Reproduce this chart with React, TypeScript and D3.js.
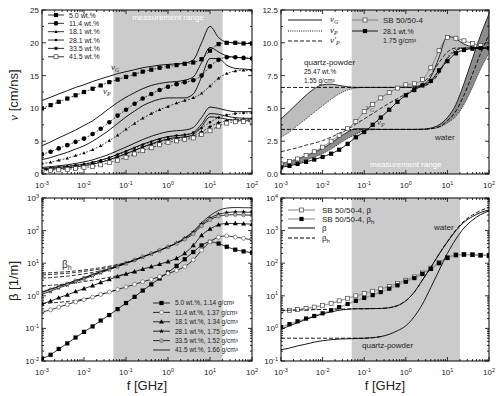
import * as d3 from 'd3';

// frequency grid of the curves, GHz (0.2 decade steps)
const freqGHz = [0.001, 0.0016, 0.0025, 0.004, 0.0063, 0.01, 0.016, 0.025, 0.04, 0.063, 0.1, 0.16, 0.25, 0.4, 0.63, 1, 1.6, 2.5, 4, 6.3, 10, 16, 25, 40, 63, 100];
const measRange = [0.05, 20];

const sampleWt = ['5.0 wt.%', '11.4 wt.%', '18.1 wt.%', '28.1 wt.%', '33.5 wt.%', '41.5 wt.%'];
const sampleDensity = ['1.14 g/cm³', '1.37 g/cm³', '1.34 g/cm³', '1.75 g/cm³', '1.52 g/cm³', '1.66 g/cm³'];

// top left: velocities [cm/ns], vG solid, vP with symbols
const vG05 = [11.2, 11.7, 12.2, 12.7, 13.2, 13.6, 14.1, 14.5, 14.9, 15.3, 15.6, 15.9, 16.2, 16.4, 16.6, 16.7, 16.8, 16.9, 17.4, 20.0, 22.5, 20.8, 20.1, 20.0, 19.9, 19.9];
const vP05 = [10.0, 10.5, 11.0, 11.5, 12.0, 12.5, 13.0, 13.5, 14.0, 14.4, 14.8, 15.2, 15.6, 15.9, 16.2, 16.4, 16.6, 16.8, 17.0, 17.5, 18.8, 19.8, 20.0, 20.0, 19.9, 19.9];
const vG11 = [4.3, 4.9, 5.5, 6.1, 6.7, 7.4, 8.1, 9.0, 10.0, 10.9, 11.7, 12.4, 13.0, 13.5, 13.8, 14.0, 14.1, 14.3, 14.8, 17.0, 19.3, 18.6, 18.0, 17.8, 17.7, 17.6];
const vP11 = [3.0, 3.4, 3.9, 4.4, 4.9, 5.4, 6.1, 6.9, 7.9, 8.9, 9.8, 10.7, 11.5, 12.2, 12.8, 13.3, 13.7, 14.0, 14.3, 15.0, 16.4, 17.4, 17.8, 17.8, 17.7, 17.6];
const vG18 = [2.2, 2.5, 2.9, 3.3, 3.8, 4.3, 5.0, 5.8, 6.7, 7.7, 8.7, 9.6, 10.4, 11.0, 11.4, 11.6, 11.6, 11.6, 12.2, 14.8, 17.6, 17.6, 16.6, 16.1, 16.0, 15.9];
const vP18 = [1.6, 1.8, 2.1, 2.4, 2.8, 3.2, 3.7, 4.3, 5.1, 5.9, 6.8, 7.7, 8.5, 9.2, 9.8, 10.3, 10.8, 11.2, 11.6, 12.3, 13.4, 14.6, 15.3, 15.7, 15.8, 15.8];
const vG28 = [1.0, 1.1, 1.25, 1.4, 1.6, 1.85, 2.15, 2.55, 3.0, 3.55, 4.1, 4.7, 5.25, 5.75, 6.15, 6.45, 6.6, 6.7, 7.1, 8.6, 10.2, 10.0, 9.7, 9.5, 9.5, 9.5];
const vP28 = [0.85, 0.95, 1.05, 1.2, 1.35, 1.55, 1.8, 2.1, 2.5, 2.95, 3.45, 3.95, 4.45, 4.9, 5.3, 5.6, 5.85, 6.0, 6.3, 7.0, 7.9, 8.6, 9.0, 9.2, 9.3, 9.3];
const vG33 = [0.8, 0.9, 1.0, 1.15, 1.3, 1.5, 1.75, 2.1, 2.5, 3.0, 3.5, 4.05, 4.55, 5.0, 5.4, 5.7, 5.85, 5.95, 6.3, 7.6, 9.2, 9.1, 8.8, 8.6, 8.5, 8.5];
const vP33 = [0.7, 0.78, 0.88, 1.0, 1.15, 1.33, 1.55, 1.85, 2.2, 2.65, 3.1, 3.6, 4.1, 4.5, 4.9, 5.2, 5.4, 5.55, 5.8, 6.4, 7.2, 7.8, 8.1, 8.3, 8.3, 8.3];
const vG41 = [0.65, 0.72, 0.82, 0.94, 1.08, 1.25, 1.48, 1.78, 2.15, 2.6, 3.1, 3.6, 4.1, 4.6, 5.0, 5.35, 5.55, 5.65, 6.0, 7.2, 8.7, 8.6, 8.35, 8.2, 8.2, 8.2];
const vP41 = [0.5, 0.56, 0.63, 0.72, 0.83, 0.97, 1.15, 1.4, 1.72, 2.1, 2.55, 3.05, 3.55, 4.0, 4.45, 4.8, 5.05, 5.25, 5.5, 6.0, 6.6, 7.3, 7.75, 7.95, 8.0, 8.0];

// top right: quartz-powder, water and SB 50/50-4 [cm/ns]
const quartzVG = [4.2, 4.8, 5.4, 6.0, 6.5, 6.8, 6.85, 6.75, 6.65, 6.6, 6.6, 6.6, 6.6, 6.6, 6.6, 6.6, 6.65, 6.8, 7.4, 8.9, 10.5, 10.3, 9.9, 9.7, 9.6, 9.6];
const quartzVP = [2.8, 3.2, 3.7, 4.2, 4.7, 5.2, 5.7, 6.1, 6.4, 6.55, 6.6, 6.6, 6.6, 6.6, 6.6, 6.6, 6.6, 6.7, 7.0, 7.8, 8.9, 9.5, 9.6, 9.6, 9.6, 9.6];
const quartzVPp = [6.6, 6.6, 6.6, 6.6, 6.6, 6.6, 6.6, 6.6, 6.6, 6.6, 6.6, 6.6, 6.6, 6.6, 6.6, 6.6, 6.6, 6.7, 6.95, 7.7, 8.8, 9.4, 9.6, 9.6, 9.6, 9.6];
const waterVG = [0.8, 0.95, 1.15, 1.4, 1.65, 1.95, 2.35, 2.8, 3.2, 3.45, 3.45, 3.42, 3.4, 3.4, 3.4, 3.4, 3.4, 3.42, 3.5, 3.75, 4.3, 5.3, 6.9, 8.8, 10.6, 12.2];
const waterVP = [0.55, 0.7, 0.85, 1.05, 1.3, 1.55, 1.9, 2.3, 2.7, 3.05, 3.3, 3.38, 3.4, 3.4, 3.4, 3.4, 3.4, 3.4, 3.45, 3.55, 3.9, 4.4, 5.3, 6.6, 8.0, 9.2];
const waterVPp = [3.4, 3.4, 3.4, 3.4, 3.4, 3.4, 3.4, 3.4, 3.4, 3.4, 3.4, 3.4, 3.4, 3.4, 3.4, 3.4, 3.4, 3.4, 3.45, 3.6, 4.05, 4.8, 6.0, 7.6, 9.2, 10.6];
const sbVG = [0.77, 0.95, 1.15, 1.4, 1.7, 2.05, 2.5, 2.95, 3.45, 4.0, 4.75, 5.3, 5.8, 6.2, 6.55, 6.8, 6.88, 7.2, 8.1, 9.4, 10.4, 10.35, 10.15, 9.95, 9.8, 9.7];
const sbVP = [0.5, 0.62, 0.77, 0.93, 1.1, 1.3, 1.55, 1.85, 2.3, 2.8, 3.2, 3.75, 4.3, 4.9, 5.5, 6.0, 6.4, 6.75, 7.1, 7.9, 8.6, 9.2, 9.45, 9.55, 9.6, 9.6];
const sbVPp = [1.7, 1.85, 2.0, 2.2, 2.35, 2.55, 2.8, 3.1, 3.4, 3.8, 4.2, 4.6, 5.0, 5.4, 5.75, 6.1, 6.5, 6.9, 7.6, 8.5, 9.3, 9.6, 9.6, 9.6, 9.6, 9.6];

// bottom left: attenuation beta [1/m]
const beta05 = [0.012, 0.0155, 0.0234, 0.0347, 0.0525, 0.078, 0.115, 0.174, 0.257, 0.39, 0.6, 0.93, 1.45, 2.24, 3.4, 5.2, 8.3, 13.2, 22, 35, 45, 40, 32, 26, 23, 21];
const beta11 = [0.32, 0.37, 0.45, 0.54, 0.65, 0.76, 0.91, 1.1, 1.3, 1.55, 1.86, 2.24, 2.7, 3.2, 3.9, 4.8, 6.0, 7.9, 12.6, 25, 45, 63, 69, 63, 58, 52];
const beta18 = [0.56, 0.69, 0.87, 1.07, 1.35, 1.66, 2.04, 2.57, 3.16, 3.9, 4.7, 5.5, 6.6, 7.8, 9.3, 11.2, 14.1, 20, 35, 71, 112, 151, 166, 166, 162, 158];
const beta28 = [1.12, 1.38, 1.74, 2.14, 2.7, 3.3, 4.1, 5.1, 6.3, 7.9, 9.8, 12.3, 15.5, 19.5, 24.5, 31.6, 41.7, 57.5, 89, 158, 240, 316, 355, 372, 372, 363];
const beta33 = [1.26, 1.55, 1.9, 2.34, 2.9, 3.5, 4.4, 5.4, 6.6, 8.1, 10, 12.6, 15.8, 20, 25, 31.6, 40, 54, 79, 141, 214, 275, 302, 309, 302, 295];
const beta41 = [1.32, 1.62, 1.95, 2.4, 2.95, 3.6, 4.5, 5.5, 6.8, 8.3, 10.2, 12.6, 15.5, 19.5, 24.5, 31.6, 42, 60, 95, 174, 288, 417, 490, 510, 505, 500];
// beta_h, low-frequency part until it joins beta
const betaH11 = [0.58, 0.6, 0.63, 0.67, 0.72, 0.8, 0.92, 1.1, 1.3, 1.55];
const betaH18 = [2.0, 2.1, 2.2, 2.35, 2.5, 2.75, 3.0, 3.3, 3.7, 4.1, 4.7, 5.5];
const betaH28 = [3.5, 3.6, 3.8, 4.0, 4.3, 4.7, 5.2, 5.9, 6.8, 8.0, 9.8, 12.3];
const betaH33 = [4.4, 4.5, 4.7, 4.9, 5.2, 5.6, 6.1, 6.7, 7.5, 8.6, 10, 12.6, 15.8];
const betaH41 = [5.0, 5.1, 5.3, 5.5, 5.8, 6.2, 6.7, 7.3, 8.1, 9.1, 10.4, 12.7, 15.5];

// bottom right
const sbBeta = [3.5, 3.6, 3.8, 4.1, 4.5, 5.1, 5.9, 7.0, 8.4, 10, 11.8, 13.8, 16.2, 19.5, 24, 30, 38, 50, 70, 105, 150, 180, 185, 182, 176, 170];
const sbBetaH = [1.1, 1.35, 1.65, 2.0, 2.4, 2.9, 3.6, 4.5, 5.6, 7.0, 8.6, 10.5, 13, 16.5, 21, 27, 35, 47, 67, 100, 145, 178, 185, 182, 176, 170];
const waterBeta = [0.95, 1.2, 1.5, 1.9, 2.3, 2.8, 3.2, 3.6, 3.85, 4.0, 4.0, 4.05, 4.1, 4.3, 5.0, 7.0, 13, 30, 75, 190, 450, 1000, 1800, 2700, 3600, 4300];
const waterBetaH = [3.6, 3.6, 3.65, 3.7, 3.75, 3.8, 3.85, 3.9, 3.95, 4.0, 4.0, 4.05, 4.1, 4.3, 5.0, 7.0, 13, 30, 75, 190, 460, 1050, 1950, 3000, 4100, 5200];
const quartzBeta = [0.22, 0.25, 0.29, 0.33, 0.38, 0.42, 0.45, 0.47, 0.48, 0.49, 0.5, 0.52, 0.56, 0.66, 0.85, 1.2, 2.3, 5.5, 18, 60, 200, 550, 1200, 2100, 3100, 4000];
const quartzBetaH = [0.5, 0.5, 0.5, 0.5, 0.5, 0.5, 0.5, 0.5, 0.5, 0.5, 0.5, 0.52, 0.56];

const vTicksA = [0, 5, 10, 15, 20, 25];
const vTicksB = [0, 2.5, 5, 7.5, 10, 12.5];

const SANS = "'Liberation Sans', Arial, Helvetica, sans-serif";
const SERIF = "'Liberation Serif', 'Times New Roman', serif";

const pts = (ys: number[]) => ys.map((v, i) => [freqGHz[i], v] as [number, number]);

function Curve({ x, y, ys, dash, color = '#000', w = 0.9 }: any) {
  const line = d3.line<[number, number]>()
    .x((d) => x(d[0]))
    .y((d) => y(d[1]))
    .curve(d3.curveMonotoneX);
  return <path d={line(pts(ys)) || ''} fill="none" stroke={color} strokeWidth={w} strokeDasharray={dash} />;
}

function Band({ x, y, lo, hi, fill }: any) {
  const area = d3.area<number>()
    .x((_, i) => x(freqGHz[i]))
    .y0((_, i) => y(lo[i]))
    .y1((_, i) => y(hi[i]))
    .curve(d3.curveMonotoneX);
  return <path d={area(hi) || ''} fill={fill} stroke="none" />;
}

function Marker({ type, cx, cy }: { type: string; cx: number; cy: number }) {
  switch (type) {
    case 'sq':
      return <rect x={cx - 2.1} y={cy - 2.1} width={4.2} height={4.2} fill="#000" />;
    case 'osq':
      return <rect x={cx - 2} y={cy - 2} width={4} height={4} fill="#fff" stroke="#444" strokeWidth={0.7} />;
    case 'ci':
      return <circle cx={cx} cy={cy} r={2.3} fill="#000" />;
    case 'oci':
      return <circle cx={cx} cy={cy} r={2} fill="#fff" stroke="#777" strokeWidth={0.8} />;
    case 'gci':
      return <circle cx={cx} cy={cy} r={1.9} fill="#aaa" stroke="#555" strokeWidth={0.5} />;
    case 'tri':
      return <path d={`M${cx},${cy - 2.6}L${cx + 2.5},${cy + 1.8}L${cx - 2.5},${cy + 1.8}Z`} fill="#000" />;
    case 'stri':
      return <path d={`M${cx},${cy - 1.8}L${cx + 1.7},${cy + 1.2}L${cx - 1.7},${cy + 1.2}Z`} fill="#000" />;
    case 'dot':
      return <circle cx={cx} cy={cy} r={1.3} fill="#000" />;
    case 'star':
      return <path d={d3.symbol(d3.symbolStar, 8)() || ''} transform={`translate(${cx},${cy})`} fill="#000" />;
    default:
      return null;
  }
}

function Markers({ x, y, ys, type }: any) {
  return (
    <g>
      {ys.map((v: number, i: number) => (
        <Marker key={i} type={type} cx={x(freqGHz[i])} cy={y(v)} />
      ))}
    </g>
  );
}

const isPow10 = (t: number) => Math.abs(Math.log10(t) - Math.round(Math.log10(t))) < 1e-6;

function Pow({ e }: { e: number }) {
  return (
    <>
      10<tspan dy={-3.5} fontSize={5.5}>{e}</tspan>
    </>
  );
}

function Frame({ x, y, logY, yMajors, yMinors, yFmt }: any) {
  const [x0, x1] = x.range();
  const [yb, yt] = y.range();
  const xt: number[] = x.ticks();
  let yMaj: number[];
  let yMin: number[];
  if (logY) {
    const all: number[] = y.ticks();
    yMaj = all.filter(isPow10);
    yMin = all.filter((t) => !isPow10(t));
  } else {
    yMaj = yMajors;
    yMin = yMinors;
  }
  const segs: string[] = [];
  xt.forEach((t) => {
    const l = isPow10(t) ? 4 : 2;
    const p = x(t);
    segs.push(`M${p},${yb}v${-l}M${p},${yt}v${l}`);
  });
  yMaj.forEach((t) => {
    const p = y(t);
    segs.push(`M${x0},${p}h4M${x1},${p}h-4`);
  });
  yMin.forEach((t) => {
    const p = y(t);
    segs.push(`M${x0},${p}h2M${x1},${p}h-2`);
  });
  return (
    <g fontFamily={SANS} fill="#222">
      <path d={segs.join('')} stroke="#000" strokeWidth={0.8} fill="none" />
      <rect x={x0} y={yt} width={x1 - x0} height={yb - yt} fill="none" stroke="#000" strokeWidth={1} />
      {xt.filter(isPow10).map((t) => (
        <text key={t} x={x(t)} y={yb + 14} fontSize={8} textAnchor="middle">
          <Pow e={Math.round(Math.log10(t))} />
        </text>
      ))}
      {yMaj.map((t) => (
        <text key={t} x={x0 - 3} y={y(t) + 3} fontSize={8} textAnchor="end">
          {logY ? <Pow e={Math.round(Math.log10(t))} /> : yFmt(t)}
        </text>
      ))}
    </g>
  );
}

function Shade({ x, y }: any) {
  const [yb, yt] = y.range();
  return (
    <rect x={x(measRange[0])} y={yt} width={x(measRange[1]) - x(measRange[0])} height={yb - yt} fill="#cbcbcb" />
  );
}

function Sym({ base, sub, prime, size = 9 }: any) {
  return (
    <>
      <tspan fontFamily={SERIF} fontStyle="italic">{base}{prime ? '′' : ''}</tspan>
      <tspan fontFamily={SERIF} fontStyle="italic" fontSize={size * 0.65} dy={2}>{sub}</tspan>
    </>
  );
}

export default function App() {
  const xL = d3.scaleLog().domain([1e-3, 1e2]).range([42, 252]);
  const xR = d3.scaleLog().domain([1e-3, 1e2]).range([281, 489]);
  const yA = d3.scaleLinear().domain([0, 25]).range([174, 10]);
  const yB = d3.scaleLinear().domain([0, 12.5]).range([174, 10]);
  const yC = d3.scaleLog().domain([1e-2, 1e3]).range([361, 198]);
  const yD = d3.scaleLog().domain([1e-1, 1e4]).range([361, 198]);

  const seriesA = [
    { vG: vG05, vP: vP05, m: 'sq' },
    { vG: vG11, vP: vP11, m: 'ci' },
    { vG: vG18, vP: vP18, m: 'stri' },
    { vG: vG28, vP: vP28, m: 'dot' },
    { vG: vG33, vP: vP33, m: 'star' },
    { vG: vG41, vP: vP41, m: 'osq' },
  ];
  const seriesC = [
    { b: beta05, m: 'sq', bh: null },
    { b: beta11, m: 'oci', bh: betaH11 },
    { b: beta18, m: 'tri', bh: betaH18 },
    { b: beta28, m: 'star', bh: betaH28 },
    { b: beta33, m: 'gci', bh: betaH33 },
    { b: beta41, m: '', bh: betaH41 },
  ];

  const clip = (id: string, x: any, y: any) => {
    const [x0, x1] = x.range();
    const [yb, yt] = y.range();
    return (
      <clipPath id={id}>
        <rect x={x0} y={yt} width={x1 - x0} height={yb - yt} />
      </clipPath>
    );
  };

  return (
    <svg width={500} height={396} style={{ position: 'fixed', left: 0, top: 0, background: '#fff' }} fontFamily={SANS}>
      <defs>
        {clip('cA', xL, yA)}
        {clip('cB', xR, yB)}
        {clip('cC', xL, yC)}
        {clip('cD', xR, yD)}
      </defs>

      {/* ---- top left ---- */}
      <Shade x={xL} y={yA} />
      <text x={(xL(measRange[0]) + xL(measRange[1])) / 2} y={20} fontSize={8} fill="#fff" textAnchor="middle">measurement range</text>
      <g clipPath="url(#cA)">
        {seriesA.map((s, i) => (
          <g key={i}>
            <Curve x={xL} y={yA} ys={s.vG} />
            <Curve x={xL} y={yA} ys={s.vP} dash="2,1.5" w={0.7} />
            <Markers x={xL} y={yA} ys={s.vP} type={s.m} />
          </g>
        ))}
      </g>
      <g fontSize={7} fill="#222">
        {seriesA.map((s, i) => {
          const ly = 15 + i * 8.35;
          return (
            <g key={i}>
              <line x1={48} x2={64} y1={ly} y2={ly} stroke="#000" strokeWidth={0.8} />
              <Marker type={s.m} cx={56} cy={ly} />
              <text x={69} y={ly + 2.5}>{sampleWt[i]}</text>
            </g>
          );
        })}
      </g>
      <text x={111} y={70} fontSize={9} fill="#222"><Sym base="v" sub="G" /></text>
      <text x={103} y={94} fontSize={9} fill="#222"><Sym base="v" sub="P" /></text>
      <Frame x={xL} y={yA} yMajors={vTicksA} yMinors={d3.range(2.5, 25, 5)} yFmt={(t: number) => `${t}`} />
      <text transform="translate(18,95) rotate(-90)" fontSize={13} textAnchor="middle" fill="#222">
        <tspan fontFamily={SERIF} fontStyle="italic">ν</tspan> [cm/ns]
      </text>

      {/* ---- top right ---- */}
      <Shade x={xR} y={yB} />
      <g clipPath="url(#cB)">
        <Band x={xR} y={yB} lo={quartzVP} hi={quartzVG} fill="#bdbdbd" />
        <Band x={xR} y={yB} lo={waterVP} hi={waterVG} fill="#8c8c8c" />
        <Curve x={xR} y={yB} ys={quartzVG} w={0.8} />
        <Curve x={xR} y={yB} ys={quartzVP} dash="1,1.2" w={0.8} />
        <Curve x={xR} y={yB} ys={quartzVPp} dash="4,2" w={0.9} />
        <Curve x={xR} y={yB} ys={waterVG} w={0.8} />
        <Curve x={xR} y={yB} ys={waterVP} dash="1,1.2" w={0.8} />
        <Curve x={xR} y={yB} ys={waterVPp} dash="4,2" w={0.9} />
        <Curve x={xR} y={yB} ys={sbVPp} dash="4,2" w={0.8} />
        <Curve x={xR} y={yB} ys={sbVG} color="#777" w={0.9} />
        <Markers x={xR} y={yB} ys={sbVG} type="osq" />
        <Curve x={xR} y={yB} ys={sbVP} w={0.9} />
        <Markers x={xR} y={yB} ys={sbVP} type="sq" />
      </g>
      <text x={(xR(measRange[0]) + xR(measRange[1])) / 2} y={167} fontSize={8} fill="#fff" textAnchor="middle">measurement range</text>
      <g fill="#222">
        <line x1={288} x2={322} y1={20} y2={20} stroke="#000" strokeWidth={0.9} />
        <line x1={288} x2={322} y1={31} y2={31} stroke="#000" strokeWidth={0.9} strokeDasharray="1,1.2" />
        <line x1={288} x2={322} y1={41} y2={41} stroke="#000" strokeWidth={0.9} strokeDasharray="4,2" />
        <text x={330} y={22} fontSize={9}><Sym base="v" sub="G" /></text>
        <text x={330} y={33} fontSize={9}><Sym base="v" sub="P" /></text>
        <text x={330} y={43} fontSize={9}><Sym base="v" sub="P" prime /></text>
        <line x1={352} x2={378} y1={20} y2={20} stroke="#777" strokeWidth={0.9} />
        <Marker type="osq" cx={365} cy={20} />
        <line x1={352} x2={378} y1={31} y2={31} stroke="#000" strokeWidth={0.9} />
        <Marker type="sq" cx={365} cy={31} />
        <text x={383} y={23} fontSize={8}>SB 50/50-4</text>
        <text x={383} y={34} fontSize={7}>28.1 wt.%</text>
        <text x={383} y={43} fontSize={7}>1.75 g/cm³</text>
        <text x={304} y={65} fontSize={8}>quartz-powder</text>
        <text x={304} y={74} fontSize={6.5}>25.47 wt.%</text>
        <text x={304} y={83} fontSize={6.5}>1.55 g/cm³</text>
        <text x={366} y={110} fontSize={9} fill="#444"><Sym base="v" sub="G" /></text>
        <text x={377} y={125} fontSize={9} fill="#444"><Sym base="v" sub="P" /></text>
        <text x={435} y={140} fontSize={8}>water</text>
      </g>
      <Frame x={xR} y={yB} yMajors={vTicksB} yMinors={d3.range(1.25, 12.5, 2.5)} yFmt={d3.format('.1f')} />

      {/* ---- bottom left ---- */}
      <Shade x={xL} y={yC} />
      <g clipPath="url(#cC)">
        {seriesC.map((s, i) => (
          <g key={i}>
            {s.bh && <Curve x={xL} y={yC} ys={s.bh} dash="4,2" w={0.8} />}
            <Curve x={xL} y={yC} ys={s.b} w={0.8} />
            {s.m && <Markers x={xL} y={yC} ys={s.b} type={s.m} />}
          </g>
        ))}
      </g>
      <g fontSize={6.5} fill="#222">
        {seriesC.map((s, i) => {
          const ly = 303 + i * 9.4;
          return (
            <g key={i}>
              <line x1={153} x2={170} y1={ly} y2={ly} stroke="#000" strokeWidth={0.8} />
              {s.m && <Marker type={s.m} cx={161.5} cy={ly} />}
              <text x={175} y={ly + 2.3}>{`${sampleWt[i]}, ${sampleDensity[i]}`}</text>
            </g>
          );
        })}
      </g>
      <text x={62} y={268} fontSize={10} fill="#333">β<tspan fontSize={7} dy={2}>h</tspan></text>
      <Frame x={xL} y={yC} logY />
      <text transform="translate(18,281) rotate(-90)" fontSize={13} textAnchor="middle" fill="#222">β [1/m]</text>
      <text x={147} y={390} fontSize={13} textAnchor="middle" fill="#222">f [GHz]</text>

      {/* ---- bottom right ---- */}
      <Shade x={xR} y={yD} />
      <g clipPath="url(#cD)">
        <Curve x={xR} y={yD} ys={sbBeta} color="#999" w={1.2} />
        <Markers x={xR} y={yD} ys={sbBeta} type="osq" />
        <Curve x={xR} y={yD} ys={sbBetaH} color="#999" w={1.2} />
        <Markers x={xR} y={yD} ys={sbBetaH} type="sq" />
        <Curve x={xR} y={yD} ys={waterBetaH} dash="4,2" w={0.9} />
        <Curve x={xR} y={yD} ys={waterBeta} w={0.9} />
        <Curve x={xR} y={yD} ys={quartzBetaH} dash="4,2" w={0.9} />
        <Curve x={xR} y={yD} ys={quartzBeta} w={0.9} />
      </g>
      <g fill="#222" fontSize={8}>
        <line x1={288} x2={315} y1={210} y2={210} stroke="#999" strokeWidth={1.2} />
        <Marker type="osq" cx={301.5} cy={210} />
        <text x={322} y={213}>SB 50/50-4, β</text>
        <line x1={288} x2={315} y1={219} y2={219} stroke="#999" strokeWidth={1.2} />
        <Marker type="sq" cx={301.5} cy={219} />
        <text x={322} y={222}>SB 50/50-4, β<tspan fontSize={6} dy={1.5}>h</tspan></text>
        <line x1={288} x2={315} y1={228} y2={228} stroke="#000" strokeWidth={1} />
        <text x={322} y={231}>β</text>
        <line x1={288} x2={315} y1={238} y2={238} stroke="#000" strokeWidth={1} strokeDasharray="4,2" />
        <text x={322} y={241}>β<tspan fontSize={6} dy={1.5}>h</tspan></text>
        <text x={434} y={230}>water</text>
        <text x={362} y={348}>quartz-powder</text>
      </g>
      <Frame x={xR} y={yD} logY />
      <text x={385} y={390} fontSize={13} textAnchor="middle" fill="#222">f [GHz]</text>
    </svg>
  );
}
